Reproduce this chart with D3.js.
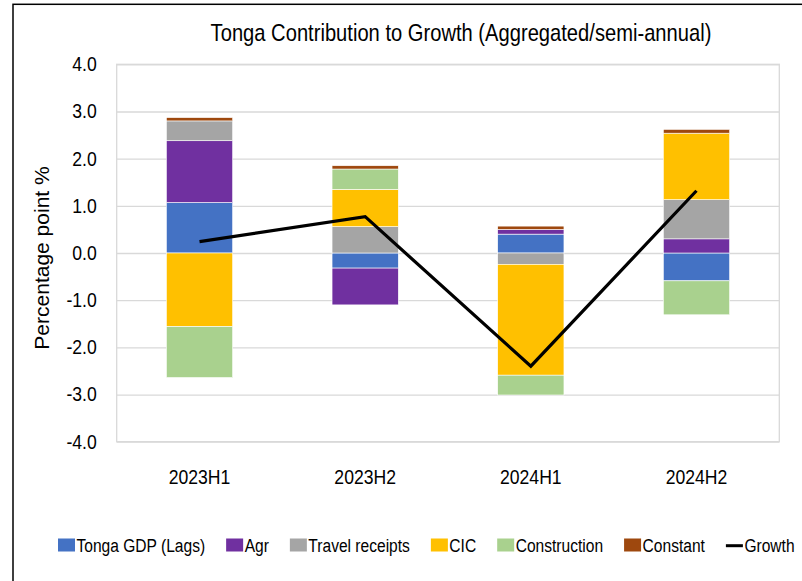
<!DOCTYPE html>
<html>
<head>
<meta charset="utf-8">
<script src="https://cdn.jsdelivr.net/npm/d3@7"></script>
<style>
  body { margin: 0; background: #fff; }
  text { font-family: "Liberation Sans", Arial, sans-serif; fill: #000; }
</style>
</head>
<body>
<script>
// chart data
var categories = ['2023H1', '2023H2', '2024H1', '2024H2'];
var seriesNames = ['Tonga GDP (Lags)', 'Agr', 'Travel receipts', 'CIC', 'Construction', 'Constant'];
var tongaGdp = [1.07, -0.32, 0.40, -0.59];
var agr = [1.31, -0.78, 0.10, 0.30];
var travel = [0.42, 0.56, -0.24, 0.83];
var cic = [-1.56, 0.79, -2.35, 1.41];
var construction = [-1.08, 0.43, -0.42, -0.72];
var constant = [0.07, 0.07, 0.07, 0.08];
var growth = [0.24, 0.77, -2.40, 1.32];
var yTicks = [-4, -3, -2, -1, 0, 1, 2, 3, 4];
var colors = ['#4472C4', '#7030A0', '#A5A5A5', '#FFC000', '#A9D18E', '#9E480E'];

var seriesValues = [tongaGdp, agr, travel, cic, construction, constant];
var rows = categories.map(function(c, i){
	var r = { cat: c };
	seriesNames.forEach(function(s, j){ r[s] = seriesValues[j][i]; });
	return r;
});

var W = 802, H = 581;
var plotL = 116.7, plotR = 779.3, plotT = 64.3, plotB = 441.7;

// squeeze text horizontally around its own x (no narrow font installed)
function condense(sel, k){
	sel.each(function(){
		var x0 = +(this.getAttribute('x') || 0);
		d3.select(this).attr('transform', 'translate(' + x0 + ',0) scale(' + k + ',1) translate(' + (-x0) + ',0)');
	});
}

var svg = d3.select('body').append('svg').attr('width', W).attr('height', H);

// outer frame
svg.append('rect').attr('x', 13).attr('y', 4.3).attr('width', W).attr('height', H)
	.attr('fill', 'none').attr('stroke', '#000').attr('stroke-width', 1.5);

var x = d3.scaleBand().domain(categories).range([plotL, plotR]).paddingInner(0.6).paddingOuter(0.3);
var y = d3.scaleLinear().domain([-4, 4]).range([plotB, plotT]);
var fmt = d3.formatLocale({ decimal: '.', thousands: ',', grouping: [3], currency: ['$', ''], minus: '-' }).format('.1f');

// gridlines
svg.append('g').attr('transform', 'translate(' + plotL + ',0)')
	.call(d3.axisLeft(y).tickValues(yTicks).tickSize(-(plotR - plotL)).tickFormat(''))
	.call(function(g){ g.select('.domain').remove(); })
	.selectAll('line').attr('stroke', '#d9d9d9').attr('stroke-width', 1.3);

// plot border
svg.append('rect').attr('x', plotL).attr('y', plotT).attr('width', plotR - plotL).attr('height', plotB - plotT)
	.attr('fill', 'none').attr('stroke', '#d9d9d9').attr('stroke-width', 1.3);

// stacked bars
var stack = d3.stack().keys(seriesNames).offset(d3.stackOffsetDiverging);
var layers = stack(rows);
svg.append('g').selectAll('g').data(layers).enter().append('g')
	.attr('fill', (d, i) => colors[i])
	.selectAll('rect').data(d => d).enter().append('rect')
	.attr('x', d => x(d.data.cat))
	.attr('width', x.bandwidth())
	.attr('y', d => y(Math.max(d[0], d[1])))
	.attr('height', d => Math.abs(y(d[0]) - y(d[1])))
	.attr('stroke', '#fff').attr('stroke-width', 0.6);

// growth line
var line = d3.line().x((d, i) => x(categories[i]) + x.bandwidth() / 2).y(d => y(d));
svg.append('path').datum(growth).attr('d', line)
	.attr('fill', 'none').attr('stroke', '#000').attr('stroke-width', 3.2);

// y axis labels
var yAxis = svg.append('g').attr('transform', 'translate(' + plotL + ',0)')
	.call(d3.axisLeft(y).tickValues(yTicks).tickFormat(fmt).tickSize(0).tickPadding(20));
yAxis.select('.domain').remove();
yAxis.attr('font-family', null).attr('font-size', null);
yAxis.selectAll('text').style('font-size', '20px').call(condense, 0.88);

// x axis labels
var xAxis = svg.append('g').attr('transform', 'translate(0,' + plotB + ')')
	.call(d3.axisBottom(x).tickSize(0).tickPadding(28.5));
xAxis.select('.domain').remove();
xAxis.attr('font-family', null).attr('font-size', null);
xAxis.selectAll('text').style('font-size', '20px').call(condense, 0.88);

// title
svg.append('text').attr('x', 461).attr('y', 40.7).attr('text-anchor', 'middle')
	.style('font-size', '24px').text('Tonga Contribution to Growth (Aggregated/semi-annual)')
	.call(condense, 0.84);

// y title
svg.append('text').attr('transform', 'translate(49,258) rotate(-90)').attr('text-anchor', 'middle')
	.style('font-size', '21px')
	.text('Percentage point %');

// legend
var legendItems = seriesNames.map((s, i) => ({ name: s, color: colors[i], type: 'box' }));
legendItems.push({ name: 'Growth', color: '#000', type: 'line' });
var lg = svg.append('g');
var lx = 58;
var lk = 0.82;
legendItems.forEach(function(d){
	var g = lg.append('g').attr('transform', 'translate(' + lx + ',0)');
	if (d.type === 'box') {
		g.append('rect').attr('x', 0).attr('y', 538.5).attr('width', 17).attr('height', 13).attr('fill', d.color);
	} else {
		g.append('line').attr('x1', 0).attr('x2', 17).attr('y1', 545.7).attr('y2', 545.7)
			.attr('stroke', d.color).attr('stroke-width', 3);
	}
	var t = g.append('text').attr('x', 18.5).attr('y', 551.7).style('font-size', '19px').text(d.name).call(condense, lk);
	lx += 18.5 + t.node().getComputedTextLength() * lk + 21;
});
</script>
</body>
</html>
